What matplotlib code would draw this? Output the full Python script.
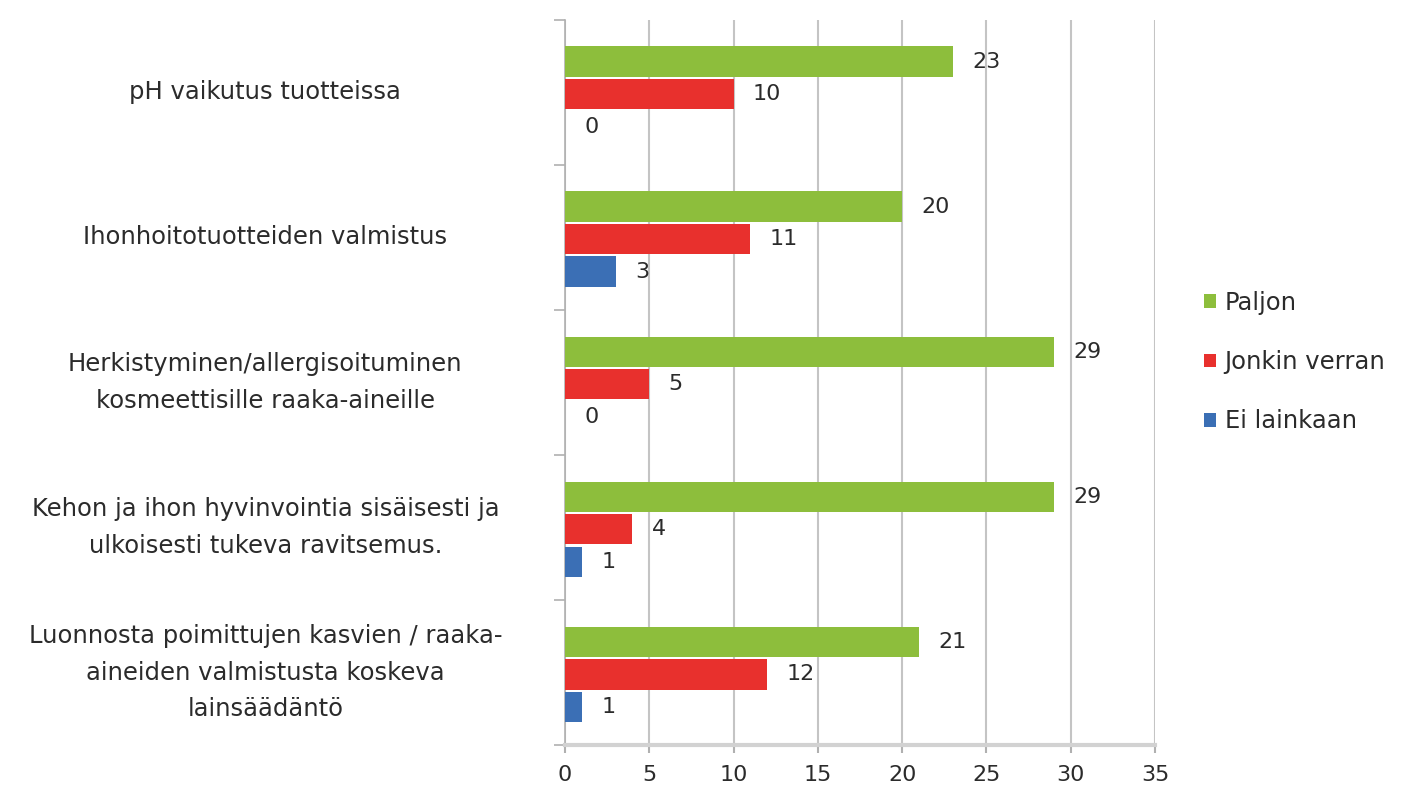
import numpy as np
import matplotlib
matplotlib.use('Agg')
import matplotlib.pyplot as plt
import matplotlib.transforms as mtransforms

categories = ['pH vaikutus tuotteissa',
              'Ihonhoitotuotteiden valmistus',
              'Herkistyminen/allergisoituminen\nkosmeettisille raaka-aineille',
              'Kehon ja ihon hyvinvointia sisäisesti ja\nulkoisesti tukeva ravitsemus.',
              'Luonnosta poimittujen kasvien / raaka-\naineiden valmistusta koskeva\nlainsäädäntö']
series   = ['Paljon', 'Jonkin verran', 'Ei lainkaan']
paljon   = [23, 20, 29, 29, 21]
jonkin   = [10, 11, 5, 4, 12]
ei       = [0, 3, 0, 1, 1]
colors   = ['#8dbe3c', '#e8302d', '#3b6fb5']

plt.rcParams['font.family'] = ['DejaVu Sans']
txt = '#2b2b2b'
fs  = 16

fig = plt.figure(figsize=(14.14, 7.96), dpi=100)
ax  = fig.add_axes([0.3996, 0.064, 0.4172, 0.911])

y  = np.arange(len(categories))
h  = 0.21
dy = 0.224
for k,(vals,name,c) in enumerate(zip([paljon, jonkin, ei], series, colors)):
    pos = y + 0.012 + (k-1)*dy
    ax.barh(pos, vals, height=h, color=c, label=name, zorder=3)
    for p,v in zip(pos, vals):
        ax.annotate(str(v), (v, p), xytext=(14, 0), textcoords='offset points',
                    va='center', ha='left', fontsize=fs, color=txt)

ax.set_xlim(0, 35)
ax.set_ylim(len(categories)-0.5, -0.5)
ax.set_xticks(np.arange(0, 36, 5))
ax.tick_params(axis='x', labelsize=fs, colors='#b0b0b0', labelcolor=txt,
               length=6, width=1.5, pad=8)
ax.set_yticks(np.arange(-0.5, len(categories)), labels=[])
ax.tick_params(axis='y', length=8, width=1.2, colors='#b0b0b0')
ax.grid(axis='x', color='#c4c4c4', lw=1.5, zorder=0)
for s in ['top', 'right']:
    ax.spines[s].set_visible(False)
ax.spines['left'].set_color('#b0b0b0')
ax.spines['left'].set_linewidth(1.2)
ax.spines['bottom'].set_color('#d2d2d2')
ax.spines['bottom'].set_linewidth(3)

trans = mtransforms.blended_transform_factory(ax.transAxes, ax.transData)
for i,lab in enumerate(categories):
    ax.text(-0.508, i, lab, transform=trans, ha='center', va='center',
            multialignment='center', fontsize=17.5, color=txt, linespacing=1.65)

ax.legend(loc='center left', bbox_to_anchor=(1.083, 0.528), frameon=False,
          fontsize=17.5, handlelength=0.5, handleheight=0.5, handletextpad=0.35,
          labelspacing=1.45, labelcolor=txt, borderaxespad=0, borderpad=0)

fig.savefig('out.png', dpi=100, facecolor='white')
